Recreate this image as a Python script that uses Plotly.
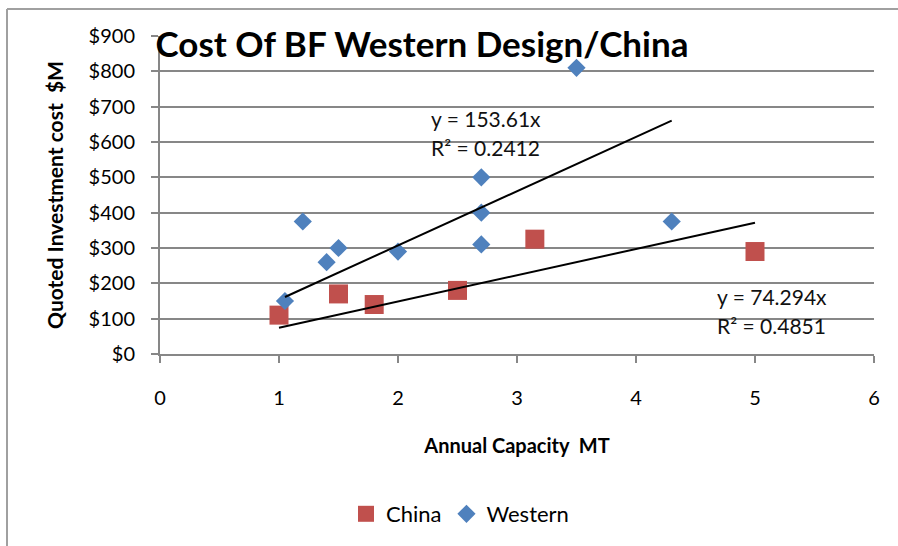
import plotly.graph_objects as go

# Annual capacity (MT) and quoted investment cost ($M)
china_capacity = [1.0, 1.5, 1.8, 2.5, 3.15, 5.0]
china_cost = [110, 170, 140, 180, 325, 290]

western_capacity = [1.05, 1.2, 1.4, 1.5, 2.0, 2.7, 2.7, 2.7, 3.5, 4.3]
western_cost = [150, 375, 260, 300, 290, 500, 400, 310, 810, 375]

# Linear trend lines through the origin
western_slope = 153.61
western_r2 = 0.2412
china_slope = 74.294
china_r2 = 0.4851

y_ticks = [0, 100, 200, 300, 400, 500, 600, 700, 800, 900]
x_ticks = [0, 1, 2, 3, 4, 5, 6]

FONT = "Lato"
RED = "#C0504D"
BLUE = "#4F81BD"
GRID = "#878787"

# plot-area geometry in pixels (used to place frame in paper coords)
W, H = 898, 546
L, R, T, B = 160, 24, 36, 191
pw, ph = W - L - R, H - T - B


def px_x(px):
    return (px - L) / pw


def px_y(py):
    return (H - B - py) / ph


fig = go.Figure()

fig.add_trace(go.Scatter(
    x=china_capacity, y=china_cost, mode="markers", name="China",
    marker=dict(symbol="square", size=19, color=RED),
))
fig.add_trace(go.Scatter(
    x=western_capacity, y=western_cost, mode="markers", name="Western",
    marker=dict(symbol="diamond", size=14, color=BLUE),
))

wx = [min(western_capacity), max(western_capacity)]
fig.add_trace(go.Scatter(
    x=wx, y=[western_slope * v for v in wx], mode="lines",
    line=dict(color="black", width=2), showlegend=False, hoverinfo="skip",
))
cx = [min(china_capacity), max(china_capacity)]
fig.add_trace(go.Scatter(
    x=cx, y=[china_slope * v for v in cx], mode="lines",
    line=dict(color="black", width=2), showlegend=False, hoverinfo="skip",
))

eq_font = dict(family=FONT, size=21, color="#111111")
fig.add_annotation(x=px_x(429), y=px_y(119), xref="paper", yref="paper",
                   text=f"y = {western_slope}x", showarrow=False,
                   xanchor="left", yanchor="middle", font=eq_font)
fig.add_annotation(x=px_x(429), y=px_y(148), xref="paper", yref="paper",
                   text=f"R² = {western_r2}", showarrow=False,
                   xanchor="left", yanchor="middle", font=eq_font)
fig.add_annotation(x=px_x(715), y=px_y(297), xref="paper", yref="paper",
                   text=f"y = {china_slope}x", showarrow=False,
                   xanchor="left", yanchor="middle", font=eq_font)
fig.add_annotation(x=px_x(715), y=px_y(326), xref="paper", yref="paper",
                   text=f"R² = {china_r2}", showarrow=False,
                   xanchor="left", yanchor="middle", font=eq_font)

# outer chart frame (top and left edges)
frame = dict(type="line", xref="paper", yref="paper",
             line=dict(color="#A0A0A0", width=2), layer="below")
fig.add_shape(x0=px_x(7), y0=px_y(9), x1=px_x(905), y1=px_y(9), **frame)
fig.add_shape(x0=px_x(7), y0=px_y(9), x1=px_x(7), y1=px_y(560), **frame)

fig.update_layout(
    width=W, height=H,
    margin=dict(l=L, r=R, t=T, b=B),
    paper_bgcolor="white", plot_bgcolor="white",
    font=dict(family=FONT, color="black"),
    title=dict(text="<b>Cost Of BF Western Design/China</b>",
               xref="container", yref="container",
               x=422 / W, y=1 - 45 / H, xanchor="center", yanchor="middle",
               font=dict(family=FONT, size=35, color="black")),
    showlegend=True,
    legend=dict(orientation="h", x=px_x(460), y=px_y(514),
                xanchor="center", yanchor="middle",
                font=dict(family=FONT, size=22, color="black"),
                itemwidth=30, tracegroupgap=0),
    xaxis=dict(range=[0, 6], tickvals=x_ticks, showgrid=False,
               showline=True, linecolor=GRID, linewidth=2,
               ticks="outside", ticklen=7, tickwidth=2, tickcolor=GRID,
               ticklabelstandoff=18, zeroline=False,
               tickfont=dict(family=FONT, size=20),
               title=dict(text="<b>Annual Capacity\u00a0\u00a0MT</b>",
                          font=dict(family=FONT, size=20), standoff=31)),
    yaxis=dict(range=[0, 900], tickvals=y_ticks,
               ticktext=[f"${v}" for v in y_ticks],
               showgrid=True, gridcolor=GRID, gridwidth=2,
               showline=True, linecolor=GRID, linewidth=2,
               ticks="outside", ticklen=7, tickwidth=2, tickcolor=GRID,
               ticklabelstandoff=12, zeroline=False,
               tickfont=dict(family=FONT, size=20),
               title=dict(text="<b>Quoted Investment cost\u00a0\u00a0$M</b>",
                          font=dict(family=FONT, size=21), standoff=19)),
)

fig.write_html("out.html")
